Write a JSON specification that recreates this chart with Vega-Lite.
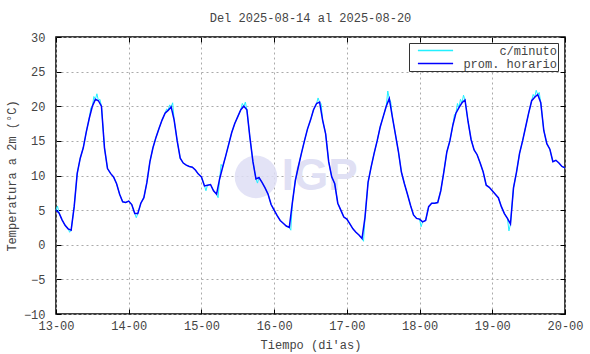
{
  "$schema": "https://vega.github.io/schema/vega-lite/v6.json",
  "width": 509,
  "height": 277,
  "autosize": {"type": "none"},
  "padding": {"left": 56, "top": 37, "right": 25, "bottom": 40},
  "background": "white",
  "title": {"text": "Del 2025-08-14 al 2025-08-20", "font": "Liberation Mono", "fontSize": 12, "fontWeight": "normal", "color": "#444", "anchor": "middle", "offset": 6},
  "datasets": {
    "d": [
      {"h":0,"p":5.0},{"h":0.5,"m":5.6},{"h":1,"p":4.6},{"h":2,"p":3.6},{"h":3,"p":2.8},{"h":4,"p":2.3},{"h":4.5,"m":1.8},{"h":5,"p":2.1},{"h":6,"p":5.5},{"h":7,"p":10.3},{"h":8,"p":12.5},{"h":9,"p":14.0},{"h":10,"p":16.3},{"h":11,"p":18.3},{"h":11.5,"m":19.8},{"h":12,"p":20.0},{"h":12.5,"m":21.4},{"h":13,"p":21.0},{"h":13.5,"m":21.8},{"h":14,"p":20.8},{"h":14.5,"m":21.0},{"h":15,"p":20.0},{"h":16,"p":14.0},{"h":17,"p":11.0},{"h":18,"p":10.3},{"h":19,"p":9.8},{"h":20,"p":8.8},{"h":21,"p":7.3},{"h":22,"p":6.2},{"h":23,"p":6.1},
      {"h":24,"p":6.3},{"h":25,"p":5.8},{"h":26,"p":4.5},{"h":26.5,"m":3.9},{"h":27,"p":4.5},{"h":28,"p":6.0},{"h":29,"p":6.8},{"h":30,"p":9.0},{"h":31,"p":12.0},{"h":32,"p":14.0},{"h":33,"p":15.5},{"h":34,"p":16.8},{"h":35,"p":18.0},{"h":36,"p":19.0},{"h":36.5,"m":19.6},{"h":37,"p":19.4},{"h":37.5,"m":20.2},{"h":38,"p":19.9},{"h":38.5,"m":20.5},{"h":39,"p":18.0},{"h":40,"p":15.0},{"h":41,"p":12.5},{"h":42,"p":11.8},{"h":43,"p":11.5},{"h":44,"p":11.3},{"h":45,"p":11.2},{"h":46,"p":10.8},{"h":47,"p":10.2},
      {"h":48,"p":9.8},{"h":49,"p":8.5},{"h":49.5,"m":7.8},{"h":50,"p":8.6},{"h":51,"p":8.7},{"h":52,"p":7.8},{"h":53,"p":7.3},{"h":53.5,"m":6.8},{"h":54,"p":9.5},{"h":54.5,"m":11.6},{"h":55,"p":11.2},{"h":56,"p":12.8},{"h":57,"p":14.5},{"h":58,"p":16.2},{"h":59,"p":17.5},{"h":60,"p":18.5},{"h":61,"p":19.5},{"h":61.5,"m":20.4},{"h":62,"p":20.0},{"h":62.5,"m":20.6},{"h":63,"p":19.5},{"h":64,"p":15.5},{"h":65,"p":12.0},{"h":66,"p":9.5},{"h":66.5,"m":8.9},{"h":67,"p":9.7},{"h":68,"p":9.0},{"h":69,"p":8.2},{"h":70,"p":7.3},{"h":71,"p":5.8},
      {"h":72,"p":5.0},{"h":73,"p":4.2},{"h":74,"p":3.5},{"h":75,"p":3.1},{"h":76,"p":2.7},{"h":77,"p":2.5},{"h":77.5,"m":2.1},{"h":78,"p":6.0},{"h":79,"p":9.3},{"h":80,"p":11.3},{"h":81,"p":13.2},{"h":82,"p":15.0},{"h":83,"p":16.7},{"h":84,"p":18.0},{"h":85,"p":19.5},{"h":86,"p":20.4},{"h":86.5,"m":21.2},{"h":87,"p":20.6},{"h":87.5,"m":20.4},{"h":88,"p":18.0},{"h":89,"p":16.0},{"h":90,"p":12.0},{"h":91,"p":9.8},{"h":92,"p":8.8},{"h":93,"p":6.0},{"h":94,"p":5.0},{"h":95,"p":4.0},
      {"h":96,"p":3.7},{"h":97,"p":3.0},{"h":98,"p":2.3},{"h":99,"p":1.8},{"h":100,"p":1.4},{"h":101,"p":0.9},{"h":101.5,"m":0.5},{"h":102,"p":4.0},{"h":103,"p":9.0},{"h":104,"p":11.2},{"h":105,"p":13.2},{"h":106,"p":15.0},{"h":107,"p":17.0},{"h":108,"p":18.5},{"h":109,"p":20.0},{"h":109.5,"m":22.2},{"h":110,"p":21.1},{"h":110.5,"m":20.6},{"h":111,"p":18.5},{"h":112,"p":16.0},{"h":113,"p":13.5},{"h":114,"p":10.5},{"h":115,"p":8.8},{"h":116,"p":7.3},{"h":117,"p":5.7},{"h":118,"p":4.3},{"h":119,"p":3.8},
      {"h":120,"p":3.7},{"h":120.5,"m":2.6},{"h":121,"p":3.3},{"h":122,"p":3.5},{"h":123,"p":5.5},{"h":124,"p":6.0},{"h":125,"p":6.0},{"h":126,"p":6.1},{"h":127,"p":7.8},{"h":128,"p":10.5},{"h":129,"p":13.4},{"h":130,"p":15.0},{"h":131,"p":17.3},{"h":131.5,"m":18.8},{"h":132,"p":19.0},{"h":132.5,"m":20.4},{"h":133,"p":19.8},{"h":133.5,"m":21.0},{"h":134,"p":20.5},{"h":134.5,"m":21.6},{"h":135,"p":20.9},{"h":136,"p":17.8},{"h":137,"p":15.2},{"h":138,"p":13.7},{"h":139,"p":13.0},{"h":140,"p":11.8},{"h":141,"p":10.5},{"h":142,"p":8.6},{"h":143,"p":8.3},
      {"h":144,"p":7.8},{"h":145,"p":7.3},{"h":146,"p":6.8},{"h":147,"p":5.5},{"h":148,"p":4.5},{"h":149,"p":3.8},{"h":149.5,"m":2.0},{"h":150,"p":3.0},{"h":151,"p":8.2},{"h":152,"p":10.5},{"h":153,"p":13.2},{"h":154,"p":15.0},{"h":155,"p":17.0},{"h":156,"p":19.0},{"h":157,"p":20.8},{"h":157.5,"m":21.7},{"h":158,"p":21.3},{"h":158.5,"m":22.3},{"h":159,"p":21.7},{"h":159.5,"m":22.0},{"h":160,"p":20.5},{"h":161,"p":16.5},{"h":162,"p":14.6},{"h":163,"p":13.8},{"h":164,"p":12.0},{"h":165,"p":12.2},{"h":166,"p":11.8},{"h":167,"p":11.3},{"h":168,"p":11.1}
    ]
  },
  "layer": [
    {
      "data": {"values": [{"cx": 66, "cy": 9.8}]},
      "mark": {"type": "point", "filled": true, "shape": "circle", "size": 1810, "color": "#dedef4", "opacity": 0.85},
      "encoding": {
        "x": {"field": "cx", "type": "quantitative", "scale": {"domain": [0, 168], "nice": false, "zero": false},
              "axis": {"orient": "top", "values": [0,24,48,72,96,120,144,168], "labels": false, "grid": false, "title": null, "domain": false, "ticks": true, "tickSize": -5, "tickColor": "#000"}},
        "y": {"field": "cy", "type": "quantitative", "scale": {"domain": [-10, 30], "nice": false, "zero": false},
              "axis": {"orient": "right", "values": [-10,-5,0,5,10,15,20,25,30], "labels": false, "grid": false, "title": null, "domain": false, "ticks": true, "tickSize": -5, "tickColor": "#000"}}
      }
    },
    {
      "data": {"values": [{"tx": 87, "ty": 9.8, "label": "IGP"}]},
      "mark": {"type": "text", "font": "Liberation Sans", "fontWeight": "bold", "fontSize": 44, "color": "#e0e0f4", "baseline": "middle", "align": "center"},
      "encoding": {
        "x": {"field": "tx", "type": "quantitative", "scale": {"domain": [0, 168], "nice": false, "zero": false}, "axis": null},
        "y": {"field": "ty", "type": "quantitative", "scale": {"domain": [-10, 30], "nice": false, "zero": false}, "axis": null},
        "text": {"field": "label"}
      }
    },
    {
      "data": {"name": "d"},
      "transform": [{"fold": ["p", "m"], "as": ["k", "v"]}, {"filter": "isValid(datum.v)"}],
      "mark": {"type": "line", "strokeWidth": 1, "interpolate": "linear"},
      "encoding": {
        "x": {"field": "h", "type": "quantitative", "scale": {"domain": [0, 168], "nice": false, "zero": false}, "axis": null},
        "y": {"field": "v", "type": "quantitative", "scale": {"domain": [-10, 30], "nice": false, "zero": false}, "axis": null},
        "color": {"datum": "c/minuto", "type": "nominal",
                  "scale": {"domain": ["c/minuto", "prom. horario"], "range": ["#22f0ff", "#0000ff"]},
                  "legend": {"title": null}}
      }
    },
    {
      "data": {"name": "d"},
      "transform": [{"filter": "isValid(datum.p)"}],
      "mark": {"type": "line", "strokeWidth": 1.5, "interpolate": "linear"},
      "encoding": {
        "x": {"field": "h", "type": "quantitative", "scale": {"domain": [0, 168], "nice": false, "zero": false},
              "axis": {"orient": "bottom", "values": [0,24,48,72,96,120,144,168], "labelExpr": "(13 + datum.value/24) + '-00'", "title": "Tiempo (di'as)", "grid": true, "ticks": true, "tickSize": -5, "labelPadding": 11, "titlePadding": 8, "labelFlush": false}},
        "y": {"field": "p", "type": "quantitative", "scale": {"domain": [-10, 30], "nice": false, "zero": false},
              "axis": {"orient": "left", "values": [-10,-5,0,5,10,15,20,25,30], "title": "Temperatura a 2m (°C)", "grid": true, "ticks": true, "tickSize": -5, "labelPadding": 16, "titlePadding": 5}},
        "color": {"datum": "prom. horario", "type": "nominal", "legend": {"title": null}}
      }
    }
  ],
  "resolve": {"axis": {"x": "independent", "y": "independent"}},
  "config": {
    "view": {"stroke": "#000", "strokeWidth": 1.5},
    "axis": {"domain": false, "labelFont": "Liberation Mono", "labelFontSize": 12, "labelColor": "#444", "titleFont": "Liberation Mono", "titleFontSize": 12, "titleFontWeight": "normal", "titleColor": "#444", "tickColor": "#000", "gridColor": "#aaa", "gridDash": [2, 3], "gridWidth": 1},
    "legend": {"orient": "none", "legendX": 353, "legendY": 6, "direction": "vertical", "symbolType": "M-3.2,0H3.2", "symbolSize": 121, "symbolStrokeWidth": 1.5, "labelFont": "Liberation Mono", "labelFontSize": 12, "labelColor": "#444", "labelAlign": "right", "strokeColor": "#333", "padding": 1, "rowPadding": 0, "symbolOffset": 19, "labelOffset": 115, "fillColor": "white"}
  }
}
